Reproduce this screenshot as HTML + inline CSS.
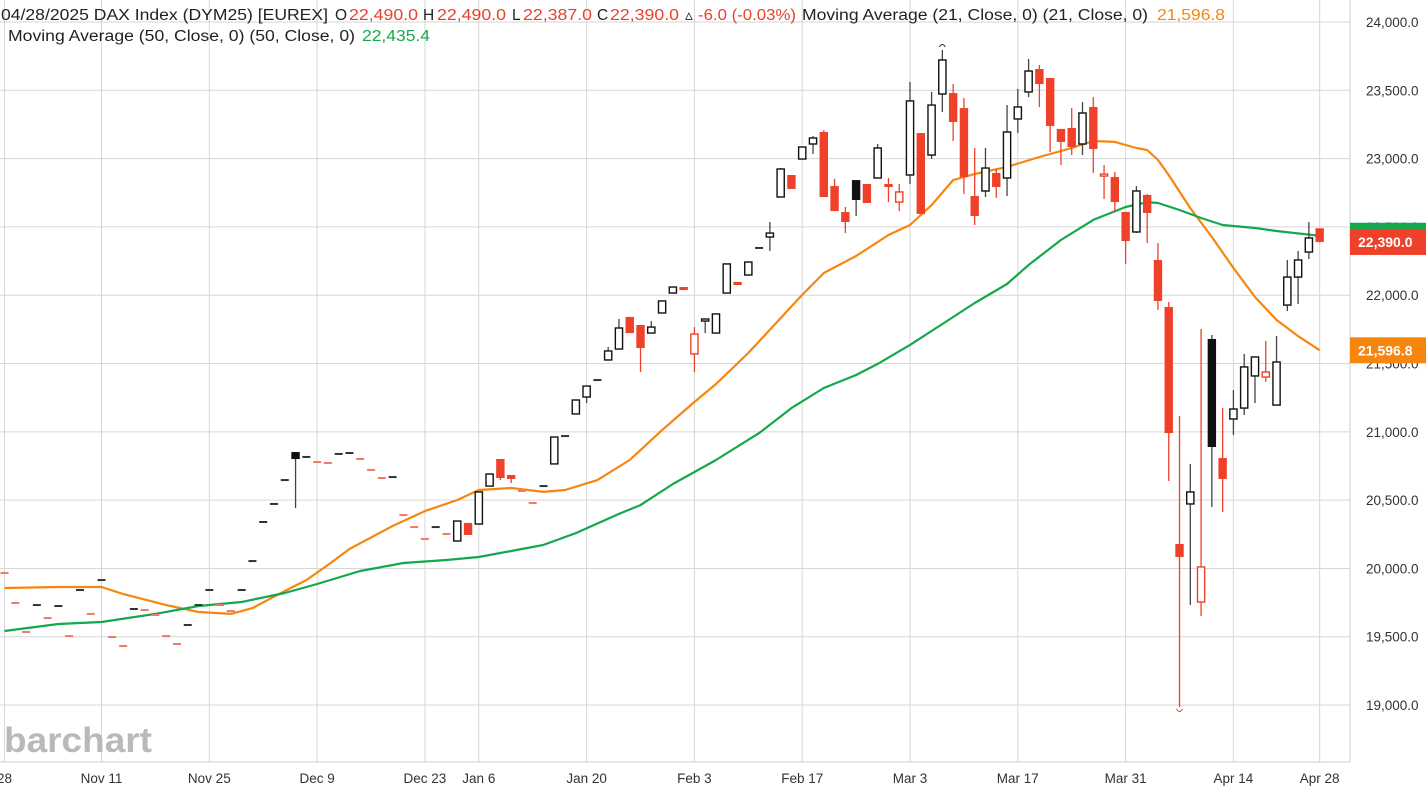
<!DOCTYPE html>
<html><head><meta charset="utf-8">
<style>
html,body{margin:0;padding:0;background:#fff;}
svg{display:block;font-family:"Liberation Sans",sans-serif;}
</style></head>
<body>
<svg id="chart" width="1426" height="793" viewBox="0 0 1426 793" xmlns="http://www.w3.org/2000/svg">
  <rect x="0" y="0" width="1426" height="793" fill="#fff"/>
  <g id="grid"></g>
  <text x="4" y="752" font-size="35" fill="#b9b9b9" font-weight="bold" textLength="148" lengthAdjust="spacingAndGlyphs">barchart</text>
  <g id="ma"></g>
  <g id="candles"></g>
  <g id="axes"></g>
  <g font-size="15.5">
    <text x="1" y="20" fill="#222" textLength="327" lengthAdjust="spacingAndGlyphs">04/28/2025 DAX Index (DYM25) [EUREX]</text>
    <text x="335" y="20" fill="#222">O</text>
    <text x="349" y="20" fill="#e8402a" textLength="69" lengthAdjust="spacingAndGlyphs">22,490.0</text>
    <text x="423" y="20" fill="#222">H</text>
    <text x="437" y="20" fill="#e8402a" textLength="69" lengthAdjust="spacingAndGlyphs">22,490.0</text>
    <text x="512" y="20" fill="#222">L</text>
    <text x="523" y="20" fill="#e8402a" textLength="69" lengthAdjust="spacingAndGlyphs">22,387.0</text>
    <text x="597" y="20" fill="#222">C</text>
    <text x="610" y="20" fill="#e8402a" textLength="69" lengthAdjust="spacingAndGlyphs">22,390.0</text>
    <text x="685" y="20" fill="#222">▵</text>
    <text x="698" y="20" fill="#e8402a" textLength="98" lengthAdjust="spacingAndGlyphs">-6.0 (-0.03%)</text>
    <text x="802" y="20" fill="#222" textLength="346" lengthAdjust="spacingAndGlyphs">Moving Average (21, Close, 0)  (21, Close, 0)</text>
    <text x="1157" y="20" fill="#f7860f" textLength="68" lengthAdjust="spacingAndGlyphs">21,596.8</text>
    <text x="8" y="41" fill="#222" textLength="347" lengthAdjust="spacingAndGlyphs">Moving Average (50, Close, 0)  (50, Close, 0)</text>
    <text x="362" y="41" fill="#12a84b" textLength="68" lengthAdjust="spacingAndGlyphs">22,435.4</text>
  </g>
</svg>
<script>
const opens=[19967,19747,19535,19732,19637,19725,19505,19842,19667,19915,19498,19432,19703,19696,19659,19505,19447,19586,19732,19842,19732,19688,19842,20054,20340,20472,20647,20852,20816,20779,20772,20838,20845,20801,20721,20662,20669,20391,20303,20216,20303,20252,
20201,20333,20325,20603,20801,20684,20567,20479,20603,20765,20969,21131,21255,21379,21526,21606,21841,21782,21723,21870,22016,22060,21570,21811,21723,22016,22097,22148,22346,22426,22719,22880,22997,23107,23195,22799,22609,22843,22814,22858,22814,22682,22880,23187,23026,23473,23480,23370,22726,22763,22895,22858,23290,23488,23656,23590,23217,23224,23107,23378,22873,22865,22609,22463,22734,22258,21914,20179,20472,19754,21680,20808,21094,21174,21409,21401,21196,21928,22133,22316,22490];
const highs=[19967,19747,19535,19732,19637,19725,19505,19842,19667,19915,19498,19432,19703,19696,19659,19505,19447,19586,19732,19842,19732,19688,19842,20054,20340,20472,20647,20852,20816,20779,20772,20838,20845,20801,20721,20662,20669,20391,20303,20216,20303,20252,
20347,20333,20560,20691,20801,20684,20567,20479,20603,20962,20969,21233,21335,21379,21621,21826,21841,21782,21811,21958,22060,22060,21767,21826,21863,22229,22097,22243,22346,22536,22931,22880,23085,23165,23209,22851,22646,22843,22814,23107,22858,22814,23561,23187,23488,23795,23546,23444,23078,23078,22924,23392,23510,23729,23685,23590,23217,23370,23414,23451,22953,22902,22609,22799,22741,22382,21950,21116,20765,21753,21709,21174,21306,21570,21548,21665,21701,22258,22324,22536,22490];
const lows=[19967,19747,19535,19732,19637,19725,19505,19842,19667,19915,19498,19432,19703,19696,19659,19505,19447,19586,19732,19842,19732,19688,19842,20054,20340,20472,20647,20442,20816,20779,20772,20838,20845,20801,20721,20662,20669,20391,20303,20216,20303,20252,
20201,20245,20325,20603,20647,20625,20567,20479,20603,20765,20969,21131,21211,21379,21526,21606,21723,21438,21723,21870,22016,22038,21438,21723,21723,22016,22075,22148,22346,22324,22719,22778,22997,23034,22719,22616,22455,22580,22675,22858,22682,22616,22814,22595,22997,23341,23129,22741,22514,22719,22712,22726,23187,23451,23378,23048,22953,23026,23026,22895,22704,22609,22229,22455,22382,21892,20640,18986,19732,19652,20450,20413,20977,21123,21211,21365,21196,21884,21936,22265,22387];
const closes=[19967,19747,19535,19732,19637,19725,19505,19842,19667,19915,19498,19432,19703,19696,19659,19505,19447,19586,19732,19842,19732,19688,19842,20054,20340,20472,20647,20801,20816,20779,20772,20838,20845,20801,20721,20662,20669,20391,20303,20216,20303,20252,
20347,20245,20560,20691,20662,20655,20567,20479,20603,20962,20969,21233,21335,21379,21592,21760,21723,21614,21767,21958,22060,22038,21716,21826,21863,22229,22075,22243,22346,22455,22924,22778,23085,23151,22719,22616,22536,22697,22675,23078,22792,22756,23422,22595,23392,23722,23268,22865,22580,22931,22792,23195,23378,23641,23546,23239,23122,23085,23334,23070,22887,22682,22397,22763,22602,21958,20991,20084,20560,20011,20889,20655,21167,21475,21548,21438,21511,22133,22258,22419,22390];
const firstPrevClose=20050;
const ma21Idx=[0,5,9,11,15,18,21,23,26,28,30,32,36,39,42,44,47,50,52,55,58,61,64,66,69,72,74,76,79,82,84,86,88,90,93,96,99,101,103,105,106,107,108,110,112,114,116,118,120,122];
const ma21Val=[19857,19864,19864,19813,19732,19681,19667,19710,19835,19915,20025,20142,20311,20420,20501,20574,20589,20560,20574,20647,20794,21013,21218,21350,21577,21833,22002,22163,22287,22441,22514,22660,22843,22887,22939,23012,23078,23129,23122,23078,23063,22990,22880,22638,22426,22199,21987,21819,21701,21597];
const ma50Idx=[0,5,9,14,18,22,26,29,33,37,41,44,48,50,53,57,59,62,66,70,73,76,79,81,84,87,90,93,95,98,101,104,106,107,109,111,113,116,118,122];
const ma50Val=[19542,19593,19608,19667,19725,19754,19820,19886,19981,20040,20062,20084,20142,20172,20259,20399,20464,20618,20794,20991,21174,21321,21416,21497,21636,21789,21943,22082,22221,22404,22551,22646,22682,22675,22624,22565,22514,22492,22470,22435];
const yTicks=[19000,19500,20000,20500,21000,21500,22000,22500,23000,23500,24000];
const xTickIdx=[0,9,19,29,39,44,54,64,74,84,94,104,114,122];
const xTickLabels=["28","Nov 11","Nov 25","Dec 9","Dec 23","Jan 6","Jan 20","Feb 3","Feb 17","Mar 3","Mar 17","Mar 31","Apr 14","Apr 28"];
const lastClose=22390.0, lastMa21=21596.8, lastMa50=22435.4;

const NS="http://www.w3.org/2000/svg";
const PLOT_R=1350, PLOT_B=762;
function yScale(v){return 22+(24000-v)*0.13661;}
function xScale(i){return 4.5+i*10.78;}
function mk(tag,attrs,parent){const e=document.createElementNS(NS,tag);for(const k in attrs)e.setAttribute(k,attrs[k]);parent.appendChild(e);return e;}
function fmt(v){return v.toLocaleString('en-US',{minimumFractionDigits:1,maximumFractionDigits:1});}

const grid=document.getElementById('grid');
yTicks.forEach(v=>{const l=mk('line',{x1:0,x2:PLOT_R,y1:yScale(v),y2:yScale(v),stroke:'#d6d6d6','stroke-width':1},grid);

});
xTickIdx.forEach(i=>{const l=mk('line',{x1:xScale(i),x2:xScale(i),y1:0,y2:PLOT_B,stroke:'#d6d6d6','stroke-width':1},grid);

});
const rb=mk('line',{x1:PLOT_R,x2:PLOT_R,y1:0,y2:PLOT_B,stroke:'#cfcfcf','stroke-width':1},grid);


const bb=mk('line',{x1:0,x2:PLOT_R,y1:PLOT_B,y2:PLOT_B,stroke:'#cfcfcf','stroke-width':1},grid);



const ma=document.getElementById('ma');
function maPath(idx,vals,color,name){let d='';idx.forEach((i,k)=>{d+=(k?'L':'M')+xScale(i).toFixed(1)+','+yScale(vals[k]).toFixed(1);});
const p=mk('path',{d:d,fill:'none',stroke:color,'stroke-width':2.2,'stroke-linejoin':'round'},ma);

}
maPath(ma21Idx,ma21Val,'#f7860f','ma21-line');
maPath(ma50Idx,ma50Val,'#12a84b','ma50-line');

const cg=document.getElementById('candles');
const RED='#ef4129';
for(let i=0;i<opens.length;i++){
  const o=opens[i],h=highs[i],l=lows[i],c=closes[i];
  const prev=i?closes[i-1]:firstPrevClose;
  const col=c<prev?RED:'#111';
  const x=xScale(i);
  const g=mk('g',{},cg);
  
  
  if(h-l<1 && Math.abs(o-c)<1){
    mk('line',{x1:x-4,x2:x+4,y1:yScale(c),y2:yScale(c),stroke:c<prev?'#f07a66':'#333','stroke-width':2},g);
    continue;
  }
  mk('line',{x1:x,x2:x,y1:yScale(h),y2:yScale(l),stroke:col==='#111'?'#444':RED,'stroke-width':1.3},g);
  const top=yScale(Math.max(o,c)),bot=yScale(Math.min(o,c));
  const hgt=Math.max(bot-top,2);
  if(c>=o){mk('rect',{x:x-3.6,y:top,width:7.2,height:hgt,fill:'#fff',stroke:col,'stroke-width':1.4},g);}
  else{mk('rect',{x:x-4.2,y:top,width:8.4,height:hgt,fill:col},g);}
}
// high / low markers
let hi=0,lo=0;for(let i=0;i<highs.length;i++){if(highs[i]>highs[hi])hi=i;if(lows[i]<lows[lo])lo=i;}
const hm=mk('path',{d:`M${xScale(hi)-3},${yScale(highs[hi])-3} q3,-5 6,0`,fill:'none',stroke:'#333','stroke-width':1},cg);


const lm=mk('path',{d:`M${xScale(lo)-3},${yScale(lows[lo])+2} q3,5 6,0`,fill:'none',stroke:RED,'stroke-width':1},cg);



const ax=document.getElementById('axes');
yTicks.forEach(v=>{const t=mk('text',{x:1366,y:yScale(v)+5,'font-size':13.5,fill:'#333'},ax);t.textContent=fmt(v);

});
xTickIdx.forEach((i,k)=>{const t=mk('text',{x:xScale(i),y:783,'font-size':13.5,fill:'#333','text-anchor':'middle'},ax);t.textContent=xTickLabels[k];

});
function priceTag(v,color,name){const y=yScale(v);
const g=mk('g',{},ax);


mk('rect',{x:1350,y:y-13,width:76,height:26,fill:color},g);
const t=mk('text',{x:1358,y:y+5,'font-size':14,'font-weight':'bold',fill:'#fff'},g);t.textContent=fmt(v);}
priceTag(lastMa50,'#12a84b','ma50-price-tag');
priceTag(lastClose,RED,'last-price-tag');
priceTag(lastMa21,'#f7860f','ma21-price-tag');
</script>
</body></html>
